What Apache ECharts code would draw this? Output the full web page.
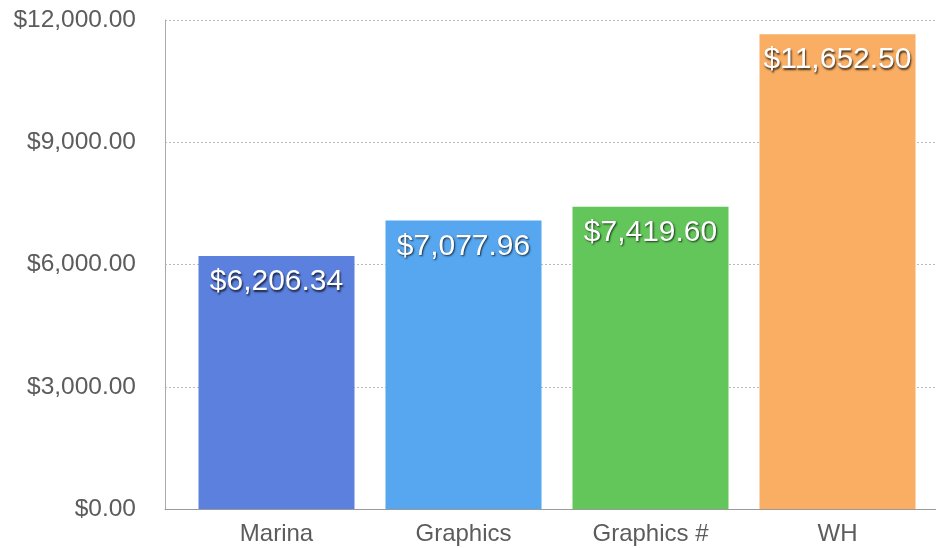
<!DOCTYPE html>
<html>
<head>
<meta charset="utf-8">
<script src="https://cdn.jsdelivr.net/npm/echarts@6/dist/echarts.min.js"></script>
<style>html,body{margin:0;padding:0;background:#fff}#c{width:936px;height:548px}</style>
</head>
<body>
<div id="c"></div>
<script>
var categories = ['Marina', 'Graphics', 'Graphics #', 'WH'];
var values = [6206.34, 7077.96, 7419.60, 11652.50];
var barColors = ['#5b80de', '#56a6f0', '#63c65a', '#f9ae64'];
var yMin = 0, yMax = 12000, yStep = 3000;

function money(v) {
  return '$' + Number(v).toLocaleString('en-US', {minimumFractionDigits: 2, maximumFractionDigits: 2});
}
var font = '"Liberation Sans", Arial, Helvetica, sans-serif';
var chart = echarts.init(document.getElementById('c'));
chart.setOption({
  animation: false,
  backgroundColor: '#fff',
  grid: [
    {left: 165, right: -2, top: 20, height: 489},
    {left: 183, width: 748, top: 20, height: 489}
  ],
  xAxis: [
    {gridIndex: 0, type: 'value', min: 0, max: 1, axisLine: {show: true, lineStyle: {color: '#9a9a9a', width: 1}},
     axisTick: {show: false}, axisLabel: {show: false}, splitLine: {show: false}},
    {gridIndex: 1, type: 'category', data: categories, axisLine: {show: false}, axisTick: {show: false},
     axisLabel: {color: '#5c5c5c', fontSize: 24, fontFamily: font, margin: 13}}
  ],
  yAxis: [
    {gridIndex: 0, type: 'value', min: yMin, max: yMax, interval: yStep,
     axisLine: {show: true, lineStyle: {color: '#aaa', width: 1}}, axisTick: {show: false},
     axisLabel: {color: '#5c5c5c', fontSize: 24.5, fontFamily: font, margin: 29, formatter: money},
     splitLine: {show: true, lineStyle: {color: '#bbb', type: [2, 2], width: 1}}},
    {gridIndex: 1, type: 'value', min: yMin, max: yMax, interval: yStep, show: false, splitLine: {show: false}}
  ],
  series: [{
    type: 'bar', xAxisIndex: 1, yAxisIndex: 1, barWidth: 156,
    data: values.map(function (v, i) { return {value: v, itemStyle: {color: barColors[i]}}; }),
    label: {
      show: true, position: 'insideTop', distance: 11, formatter: function (p) { return money(p.value); },
      color: '#fff', fontSize: 30, fontFamily: font,
      textShadowColor: 'rgba(0,0,0,0.75)', textShadowBlur: 2, textShadowOffsetX: 1, textShadowOffsetY: 1.5
    }
  }]
});
</script>
</body>
</html>
